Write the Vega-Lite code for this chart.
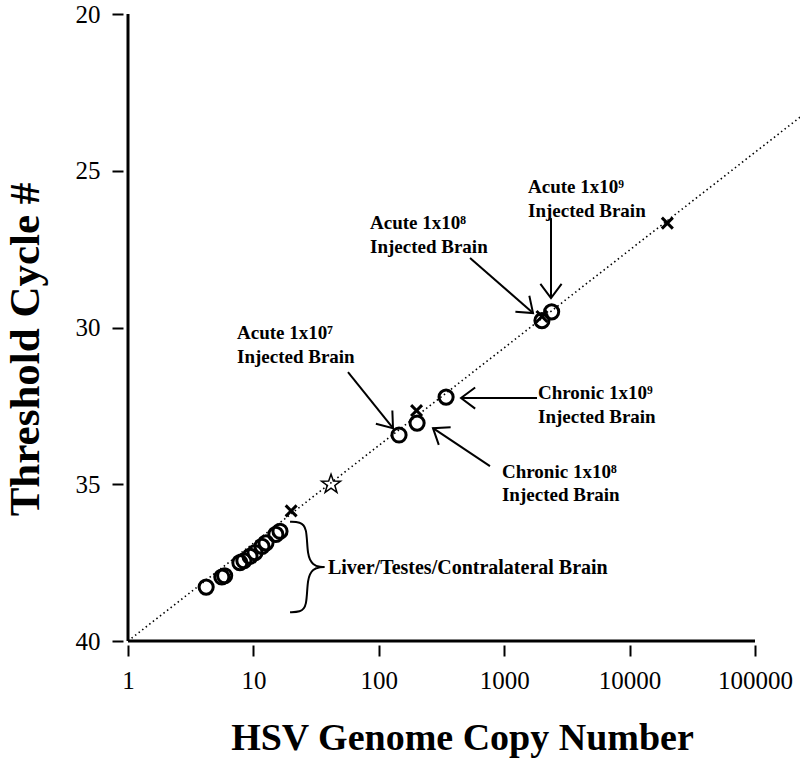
{
  "$schema": "https://vega.github.io/schema/vega-lite/v6.json",
  "width": 627,
  "height": 627,
  "autosize": "none",
  "padding": {"left": 128, "top": 14, "right": 45, "bottom": 134},
  "background": "white",
  "config": {
    "view": {"stroke": null},
    "font": "Liberation Serif",
    "axis": {"grid": false, "domain": false, "tickColor": "black", "tickWidth": 2, "tickSize": 11, "labelColor": "black", "labelFont": "Liberation Serif", "labelFontSize": 25, "titleFont": "Liberation Serif", "titleColor": "black", "titleFontWeight": "bold"}
  },
  "datasets": {
    "axesl": [
      {"n": 1, "ct": 20, "n2": 1, "ct2": 40},
      {"n": 1, "ct": 40, "n2": 100000, "ct2": 40}
    ],
    "fitline": [
      {"n": 1, "ct": 40},
      {"n": 229000, "ct": 23.29}
    ],
    "pts": [
      {"n": 4.2, "ct": 38.28, "kind": "sample"},
      {"n": 5.6, "ct": 37.96, "kind": "sample"},
      {"n": 5.9, "ct": 37.92, "kind": "sample"},
      {"n": 7.8, "ct": 37.5, "kind": "sample"},
      {"n": 8.4, "ct": 37.44, "kind": "sample"},
      {"n": 9.4, "ct": 37.3, "kind": "sample"},
      {"n": 10.3, "ct": 37.18, "kind": "sample"},
      {"n": 11.7, "ct": 36.98, "kind": "sample"},
      {"n": 12.6, "ct": 36.87, "kind": "sample"},
      {"n": 15.1, "ct": 36.6, "kind": "sample"},
      {"n": 16.3, "ct": 36.5, "kind": "sample"},
      {"n": 145, "ct": 33.43, "kind": "sample"},
      {"n": 202, "ct": 33.05, "kind": "sample"},
      {"n": 344, "ct": 32.22, "kind": "sample"},
      {"n": 2000, "ct": 29.78, "kind": "sample"},
      {"n": 2390, "ct": 29.5, "kind": "sample"},
      {"n": 20, "ct": 35.85, "kind": "standard"},
      {"n": 200, "ct": 32.65, "kind": "standard"},
      {"n": 2000, "ct": 29.65, "kind": "standard"},
      {"n": 20000, "ct": 26.67, "kind": "standard"},
      {"n": 41.6, "ct": 35.0, "kind": "star"}
    ],
    "arrows": [
      {"n": 2361, "ct": 26.51, "n2": 2361, "ct2": 29.06},
      {"n": 534, "ct": 27.78, "n2": 1698, "ct2": 29.54},
      {"n": 56.8, "ct": 31.42, "n2": 129.8, "ct2": 33.21},
      {"n": 1827, "ct": 32.25, "n2": 452.6, "ct2": 32.25},
      {"n": 770, "ct": 34.42, "n2": 270.5, "ct2": 33.21}
    ],
    "heads": [
      {"n": 2361, "ct": 29.06, "angle": 90},
      {"n": 1698, "ct": 29.54, "angle": 41},
      {"n": 129.8, "ct": 33.21, "angle": 51},
      {"n": 452.6, "ct": 32.25, "angle": 180},
      {"n": 270.5, "ct": 33.21, "angle": 214}
    ],
    "brace": [
      {"o": 1, "n": 19.6, "ct": 36.2},
      {"o": 2, "n": 23.5, "ct": 36.2},
      {"o": 3, "n": 26.8, "ct": 36.36},
      {"o": 4, "n": 26.8, "ct": 37.29},
      {"o": 5, "n": 29.9, "ct": 37.58},
      {"o": 6, "n": 34.0, "ct": 37.64},
      {"o": 7, "n": 38.6, "ct": 37.64},
      {"o": 8, "n": 34.0, "ct": 37.64},
      {"o": 9, "n": 29.9, "ct": 37.7},
      {"o": 10, "n": 26.8, "ct": 37.99},
      {"o": 11, "n": 26.8, "ct": 38.92},
      {"o": 12, "n": 23.5, "ct": 39.08},
      {"o": 13, "n": 19.6, "ct": 39.08}
    ],
    "labels": [
      {"n": 1549, "ct": 25.52, "text": "Acute 1x10⁹"},
      {"n": 1549, "ct": 26.28, "text": "Injected Brain"},
      {"n": 85.1, "ct": 26.67, "text": "Acute 1x10⁸"},
      {"n": 85.1, "ct": 27.43, "text": "Injected Brain"},
      {"n": 7.4, "ct": 30.18, "text": "Acute 1x10⁷"},
      {"n": 7.4, "ct": 30.94, "text": "Injected Brain"},
      {"n": 1860, "ct": 32.09, "text": "Chronic 1x10⁹"},
      {"n": 1860, "ct": 32.85, "text": "Injected Brain"},
      {"n": 960, "ct": 34.61, "text": "Chronic 1x10⁸"},
      {"n": 960, "ct": 35.34, "text": "Injected Brain"}
    ],
    "bracelabel": [
      {"n": 39.3, "ct": 37.67, "text": "Liver/Testes/Contralateral Brain"}
    ]
  },
  "layer": [
    {
      "data": {"name": "axesl"},
      "mark": {"type": "rule", "color": "black", "strokeWidth": 3, "clip": false},
      "encoding": {
        "x": {
          "field": "n", "type": "quantitative",
          "scale": {"type": "log", "domain": [1, 100000], "nice": false},
          "axis": {"orient": "bottom", "title": "HSV Genome Copy Number", "values": [1, 10, 100, 1000, 10000, 100000], "format": "d", "offset": 4, "labelPadding": 12, "titleFontSize": 38, "titlePadding": 26, "titleX": 334, "labelFlush": false, "labelOverlap": false}
        },
        "y": {
          "field": "ct", "type": "quantitative",
          "scale": {"domain": [20, 40], "reverse": true, "nice": false, "zero": false},
          "axis": {"orient": "left", "title": "Threshold Cycle #", "values": [20, 25, 30, 35, 40], "offset": 5, "labelPadding": 12, "titleFontSize": 43, "titlePadding": 28, "titleY": 335, "labelFlush": false, "labelOverlap": false}
        },
        "x2": {"field": "n2"},
        "y2": {"field": "ct2"}
      }
    },
    {
      "data": {"name": "fitline"},
      "mark": {"type": "line", "color": "black", "strokeWidth": 1.6, "strokeDash": [1.5, 3], "clip": false},
      "encoding": {
        "x": {"field": "n", "type": "quantitative"},
        "y": {"field": "ct", "type": "quantitative"}
      }
    },
    {
      "data": {"name": "pts"},
      "transform": [{"filter": "datum.kind == 'sample'"}],
      "mark": {"type": "point", "shape": "circle", "filled": false, "color": "black", "strokeWidth": 3, "size": 200, "opacity": 1, "clip": false},
      "encoding": {
        "x": {"field": "n", "type": "quantitative"},
        "y": {"field": "ct", "type": "quantitative"}
      }
    },
    {
      "data": {"name": "pts"},
      "transform": [{"filter": "datum.kind == 'standard'"}],
      "mark": {"type": "point", "shape": "M-1,-1L1,1M-1,1L1,-1", "filled": false, "color": "black", "strokeWidth": 3, "size": 120, "opacity": 1, "clip": false},
      "encoding": {
        "x": {"field": "n", "type": "quantitative"},
        "y": {"field": "ct", "type": "quantitative"}
      }
    },
    {
      "data": {"name": "pts"},
      "transform": [{"filter": "datum.kind == 'star'"}],
      "mark": {"type": "point", "shape": "M0,-1L0.235,-0.324L0.951,-0.309L0.38,0.124L0.588,0.809L0,0.4L-0.588,0.809L-0.38,0.124L-0.951,-0.309L-0.235,-0.324Z", "filled": false, "color": "black", "strokeWidth": 1.5, "size": 400, "opacity": 1, "clip": false},
      "encoding": {
        "x": {"field": "n", "type": "quantitative"},
        "y": {"field": "ct", "type": "quantitative"}
      }
    },
    {
      "data": {"name": "arrows"},
      "mark": {"type": "rule", "color": "black", "strokeWidth": 2, "clip": false},
      "encoding": {
        "x": {"field": "n", "type": "quantitative"},
        "y": {"field": "ct", "type": "quantitative"},
        "x2": {"field": "n2"},
        "y2": {"field": "ct2"}
      }
    },
    {
      "data": {"name": "heads"},
      "mark": {"type": "point", "shape": "M-1,-0.75L0,0L-1,0.75", "filled": false, "color": "black", "strokeWidth": 2, "size": 800, "opacity": 1, "clip": false},
      "encoding": {
        "x": {"field": "n", "type": "quantitative"},
        "y": {"field": "ct", "type": "quantitative"},
        "angle": {"field": "angle", "type": "quantitative", "scale": null}
      }
    },
    {
      "data": {"name": "brace"},
      "mark": {"type": "line", "color": "black", "strokeWidth": 2, "interpolate": "basis", "clip": false},
      "encoding": {
        "x": {"field": "n", "type": "quantitative"},
        "y": {"field": "ct", "type": "quantitative"},
        "order": {"field": "o", "type": "quantitative"}
      }
    },
    {
      "data": {"name": "labels"},
      "mark": {"type": "text", "align": "left", "baseline": "middle", "font": "Liberation Serif", "fontWeight": "bold", "fontSize": 19, "color": "black", "clip": false},
      "encoding": {
        "x": {"field": "n", "type": "quantitative"},
        "y": {"field": "ct", "type": "quantitative"},
        "text": {"field": "text", "type": "nominal"}
      }
    },
    {
      "data": {"name": "bracelabel"},
      "mark": {"type": "text", "align": "left", "baseline": "middle", "font": "Liberation Serif", "fontWeight": "bold", "fontSize": 20, "color": "black", "clip": false},
      "encoding": {
        "x": {"field": "n", "type": "quantitative"},
        "y": {"field": "ct", "type": "quantitative"},
        "text": {"field": "text", "type": "nominal"}
      }
    }
  ]
}
